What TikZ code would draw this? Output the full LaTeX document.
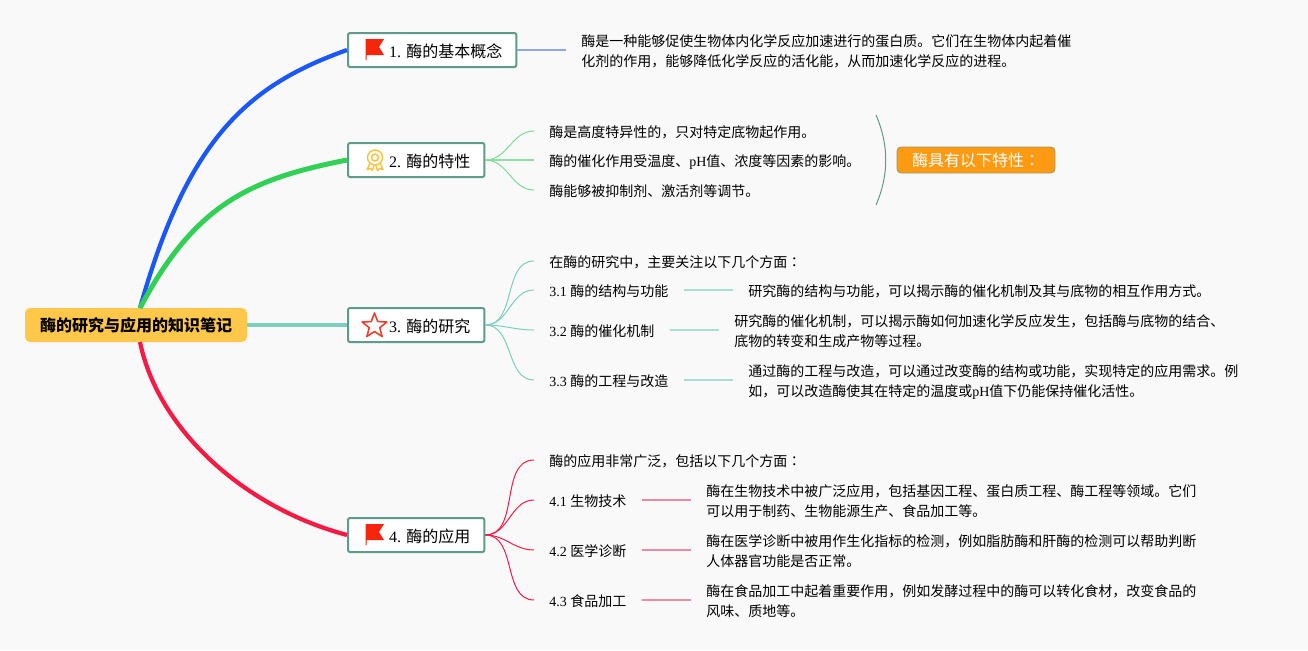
\documentclass[tikz,border=0pt]{standalone}
\usepackage{fontspec}
\setmainfont{Noto Sans CJK SC}
\newfontfamily\latinfont{Liberation Serif}
\newfontfamily\tradfont{Noto Sans CJK TC}
\newcommand{\lat}[1]{{\latinfont #1}}
\newcommand{\colonmark}{{\tradfont ：}}
\newcommand{\leafstrut}{\rule[-2.5pt]{0pt}{14.5pt}}
\newcommand{\branchstrut}{\rule[-2.4pt]{0pt}{15.4pt}}
\definecolor{bgpage}{HTML}{F9F9F9}
\definecolor{rootfill}{HTML}{FFC84A}
\definecolor{boxline}{HTML}{5F9A8B}
\definecolor{blueline}{HTML}{1A57F5}
\definecolor{greenline}{HTML}{33D058}
\definecolor{tealline}{HTML}{7CCFBE}
\definecolor{redline}{HTML}{F51B45}
\definecolor{paleblue}{HTML}{8DA6E8}
\definecolor{palegreen}{HTML}{8EDFA0}
\definecolor{paleteal}{HTML}{A6E0D4}
\definecolor{palered}{HTML}{EE8BA0}
\definecolor{flagred}{HTML}{F5260C}
\definecolor{medal}{HTML}{F9C23C}
\definecolor{starred}{HTML}{E8432F}
\definecolor{orangefill}{HTML}{FF9A12}
\tikzset{
  rootbox/.style = {fill = rootfill, rounded corners = 3.75pt, minimum width = 166.5pt, minimum height = 25.5pt, inner sep = 0pt, font = \fontsize{12pt}{15pt}\selectfont\bfseries},
  branchbox/.style = {draw = boxline, line width = 1.5pt, fill = white, rounded corners = 1.5pt, minimum height = 25.5pt, inner xsep = 10.5pt, inner ysep = 0pt, anchor = west, font = \fontsize{12pt}{15pt}\selectfont, execute at begin node = \branchstrut},
  leaf/.style = {anchor = west, inner xsep = 11.25pt, inner ysep = 0pt, align = left, font = \fontsize{10.5pt}{15pt}\selectfont, execute at begin node = \leafstrut, execute at end node = \leafstrut},
  summary/.style = {draw = boxline!70!orangefill, line width = 0.6pt, fill = orangefill, text = white, rounded corners = 3pt, minimum width = 118.5pt, minimum height = 19.5pt, inner sep = 0pt, font = \fontsize{12pt}{15pt}\selectfont},
  mainline/.style = {line width = 3.2pt},
  twig/.style = {line width = 0.75pt},
  stub/.style = {line width = 1.5pt},
  flagicon/.pic = {
    \fill [flagred] (-9.5, -11) -- (9, -11) -- (4, -3) -- (9, 5) -- (-8.5, 5) -- (-8.5, 10) -- (-9.5, 10) -- cycle;
  },
  medalicon/.pic = {
    \draw [medal, line width = 1.1pt] (0, 0) circle (7.5);
    \draw [medal, line width = 1.1pt] (0, 0) circle (3.5);
    \draw [medal, line width = 1.1pt, line join = round] (-5, 6) -- (-8, 12) -- (-4.5, 11) -- (-2.5, 13) -- (-1, 8);
    \draw [medal, line width = 1.1pt, line join = round] (5, 6) -- (8, 12) -- (4.5, 11) -- (2.5, 13) -- (1, 8);
  },
  staricon/.pic = {
    \draw [starred, line width = 1.2pt, line join = round] (-90:13) -- (-54:5.5) -- (-18:13) -- (18:5.5) -- (54:13) -- (90:5.5) -- (126:13) -- (162:5.5) -- (198:13) -- (234:5.5) -- cycle;
  }
}

\begin{document}
\begin{tikzpicture}[x = 0.75pt, y = -0.75pt]
\fill [bgpage] (0, 0) rectangle (1308, 650);

\node [rootbox] (root) at (136, 325) {酶的研究与应用的知识笔记};
\coordinate (rootUp) at (140, 308);
\coordinate (rootDown) at (140, 342);

% branches
\node [branchbox] (basic) at (347, 50) {\hspace*{20.25pt}\lat{1. }酶的基本概念};
\node [branchbox] (traits) at (347, 160) {\hspace*{20.25pt}\lat{2. }酶的特性};
\node [branchbox] (research) at (347, 325) {\hspace*{20.25pt}\lat{3. }酶的研究};
\node [branchbox] (usage) at (347, 535) {\hspace*{20.25pt}\lat{4. }酶的应用};
\pic at (375, 50) {flagicon};
\pic at (375, 157.5) {medalicon};
\pic at (374.5, 326) {staricon};
\pic at (375, 535) {flagicon};

\draw [mainline, blueline] (rootUp) .. controls (188, 137) and (249, 85) .. (basic.west);
\draw [mainline, greenline, line width = 3.75pt] (rootUp) .. controls (195, 204) and (250, 179) .. (traits.west);
\draw [mainline, tealline] (root.east) to (research.west);
\draw [mainline, redline] (rootDown) .. controls (158, 430) and (245, 508) .. (usage.west);

% 1
\node [leaf] (basicText) at (566, 52) {酶是一种能够促使生物体内化学反应加速进行的蛋白质。它们在生物体内起着催\\化剂的作用，能够降低化学反应的活化能，从而加速化学反应的进程。};
\draw [stub, paleblue] (basic.east) to (basicText.west |- basic.east);

% 2
\node [leaf] (traitA) at (534, 131) {酶是高度特异性的，只对特定底物起作用。};
\node [leaf] (traitB) at (534, 160) {酶的催化作用受温度、\lat{pH}值、浓度等因素的影响。};
\node [leaf] (traitC) at (534, 190) {酶能够被抑制剂、激活剂等调节。};
\draw [twig, palegreen!80!greenline] (traits.east) to [out = 0, in = 180] (traitA.west);
\draw [stub, palegreen] (traits.east) to (traitB.west);
\draw [twig, palegreen!80!greenline] (traits.east) to [out = 0, in = 180] (traitC.west);
\coordinate (braceTop) at (876, 115);
\coordinate (braceEnd) at (876, 205);
\draw [boxline, line width = 0.75pt] (braceTop) .. controls (889, 145) and (889, 175) .. (braceEnd);
\node [summary] (traitNote) at (976, 160) {酶具有以下特性\colonmark};

% 3
\node [leaf] (resHead) at (534, 261) {在酶的研究中，主要关注以下几个方面\colonmark};
\node [leaf] (resA) at (534, 290) {\lat{3.1 }酶的结构与功能};
\node [leaf] (resB) at (534, 330) {\lat{3.2 }酶的催化机制};
\node [leaf] (resC) at (534, 380) {\lat{3.3 }酶的工程与改造};
\node [leaf] (resAText) at (733, 290) {研究酶的结构与功能，可以揭示酶的催化机制及其与底物的相互作用方式。};
\node [leaf] (resBText) at (719, 332) {研究酶的催化机制，可以揭示酶如何加速化学反应发生，包括酶与底物的结合、\\底物的转变和生成产物等过程。};
\node [leaf] (resCText) at (733, 382) {通过酶的工程与改造，可以通过改变酶的结构或功能，实现特定的应用需求。例\\如，可以改造酶使其在特定的温度或\lat{pH}值下仍能保持催化活性。};
\foreach \item in {resHead, resA, resB, resC}
  \draw [twig, tealline] (research.east) to [out = 0, in = 180] (\item.west);
\draw [stub, paleteal] (resA.east) to (resAText.west);
\draw [stub, paleteal] (resB.east) to (resBText.west |- resB.east);
\draw [stub, paleteal] (resC.east) to (resCText.west |- resC.east);

% 4
\node [leaf] (useHead) at (534, 460) {酶的应用非常广泛，包括以下几个方面\colonmark};
\node [leaf] (useA) at (534, 500) {\lat{4.1 }生物技术};
\node [leaf] (useB) at (534, 550) {\lat{4.2 }医学诊断};
\node [leaf] (useC) at (534, 600) {\lat{4.3 }食品加工};
\node [leaf] (useAText) at (691, 502) {酶在生物技术中被广泛应用，包括基因工程、蛋白质工程、酶工程等领域。它们\\可以用于制药、生物能源生产、食品加工等。};
\node [leaf] (useBText) at (691, 552) {酶在医学诊断中被用作生化指标的检测，例如脂肪酶和肝酶的检测可以帮助判断\\人体器官功能是否正常。};
\node [leaf] (useCText) at (691, 602) {酶在食品加工中起着重要作用，例如发酵过程中的酶可以转化食材，改变食品的\\风味、质地等。};
\foreach \item in {useHead, useA, useB, useC}
  \draw [twig, redline] (usage.east) to [out = 0, in = 180] (\item.west);
\draw [stub, palered] (useA.east) to (useAText.west |- useA.east);
\draw [stub, palered] (useB.east) to (useBText.west |- useB.east);
\draw [stub, palered] (useC.east) to (useCText.west |- useC.east);
\end{tikzpicture}
\end{document}
